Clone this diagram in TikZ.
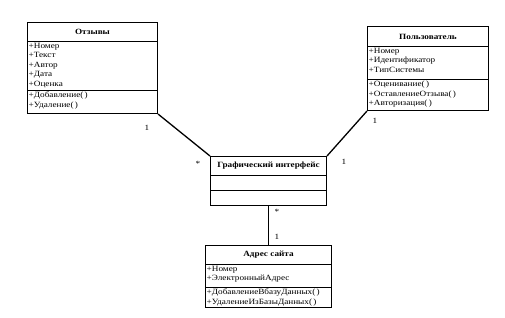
\documentclass[tikz,border=0pt]{standalone}
\usepackage{fontspec}
\setmainfont[FakeStretch=1.15]{Liberation Serif}
\begin{document}
\begin{tikzpicture}[x=1pt,y=-1pt,
  sec/.style={draw, line width=1pt, inner sep=0pt, anchor=north west},
  ttl/.style={font=\fontsize{8}{9}\selectfont\bfseries, inner sep=0pt},
  txt/.style={anchor=north west, inner sep=0pt, font=\fontsize{8}{9.5}\selectfont, align=left},
  lbl/.style={font=\fontsize{8}{9}\selectfont, inner sep=0pt},
  conn/.style={line width=1.3pt}]
\useasboundingbox (0,0) rectangle (505,317);
% Отзывы
\node[sec, minimum width=130pt, minimum height=19pt] (o1) at (27,22) {};
\node[sec, minimum width=130pt, minimum height=49pt] (o2) at (27,41) {};
\node[sec, minimum width=130pt, minimum height=23pt] (o3) at (27,90) {};
\node[ttl] (o1t) at (o1.center) {Отзывы};
\node[txt] (o2t) at ([shift={(1.5,2)}]o2.north west) {+Номер\\+Текст\\+Автор\\+Дата\\+Оценка};
\node[txt] (o3t) at ([shift={(1.5,2)}]o3.north west) {+Добавление(\,)\\+Удаление(\,)};
% Пользователь
\node[sec, minimum width=121pt, minimum height=20pt] (p1) at (367,26) {};
\node[sec, minimum width=121pt, minimum height=33pt] (p2) at (367,46) {};
\node[sec, minimum width=121pt, minimum height=31pt] (p3) at (367,79) {};
\node[ttl] (p1t) at (p1.center) {Пользователь};
\node[txt] (p2t) at ([shift={(1.5,2)}]p2.north west) {+Номер\\+Идентификатор\\+ТипСистемы};
\node[txt] (p3t) at ([shift={(1.5,2)}]p3.north west) {+Оценивание(\,)\\+ОставлениеОтзыва(\,)\\+Авторизация(\,)};
% Графический интерфейс
\node[sec, minimum width=116pt, minimum height=19pt] (g1) at (210,156) {};
\node[sec, minimum width=116pt, minimum height=15pt] (g2) at (210,175) {};
\node[sec, minimum width=116pt, minimum height=15pt] (g3) at (210,190) {};
\node[ttl] (g1t) at (g1.center) {Графический интерфейс};
% Адрес сайта
\node[sec, minimum width=126pt, minimum height=19pt] (a1) at (205,245) {};
\node[sec, minimum width=126pt, minimum height=23pt] (a2) at (205,264) {};
\node[sec, minimum width=126pt, minimum height=20pt] (a3) at (205,287) {};
\node[ttl] (a1t) at (a1.center) {Адрес сайта};
\node[txt] (a2t) at ([shift={(1.5,2)}]a2.north west) {+Номер\\+ЭлектронныйАдрес};
\node[txt] (a3t) at ([shift={(1.5,2)}]a3.north west) {+ДобавлениеВбазуДанных(\,)\\+УдалениеИзБазыДанных(\,)};
% connectors
\draw[conn] (o3.south east) -- (g1.north west);
\draw[conn] (p3.south west) -- (g1.north east);
\draw[conn] (g3.south) -- (a1.north);
% multiplicities
\node[lbl] (m1) at (147,128) {1};
\node[lbl] (m2) at (198,164) {*};
\node[lbl] (m3) at (344,162) {1};
\node[lbl] (m4) at (375,121) {1};
\node[lbl] (m5) at (277,212) {*};
\node[lbl] (m6) at (277,237) {1};
\end{tikzpicture}
\end{document}
